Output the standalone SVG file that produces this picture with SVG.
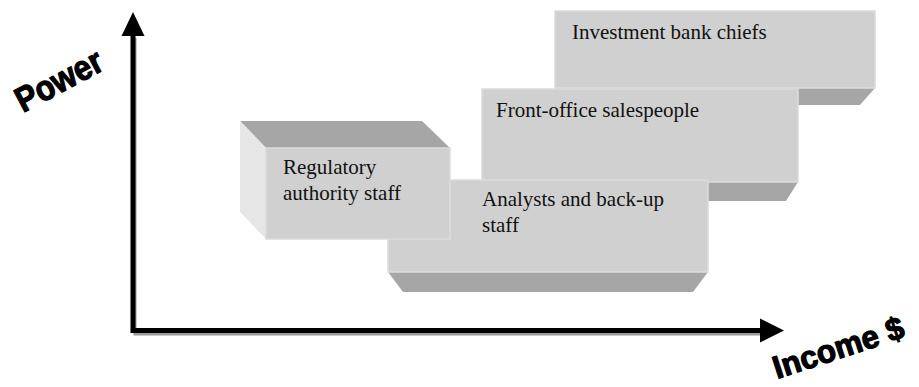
<svg xmlns="http://www.w3.org/2000/svg" width="919" height="387" viewBox="0 0 919 387">
  <defs>
    <style>
      .front { fill: #d0d0d0; stroke: #dcdcdc; stroke-width: 1.5; }
      .dark { fill: #a6a6a6; }
      .light { fill: #e6e6e6; }
      .lbl { font-family: "Liberation Serif", "Times New Roman", serif; font-size: 21px; fill: #111; }
      .axislbl { font-family: "Liberation Sans", Arial, sans-serif; font-weight: bold; fill: #000; stroke: #000; stroke-width: 1.2; stroke-linejoin: round; }
      .axis { stroke: #000; stroke-width: 5; fill: none; }
    </style>
  </defs>
  <rect width="919" height="387" fill="#fff"/>

  <g id="node-chiefs">
    <polygon class="dark" points="555,88 875,88 860,105 570,105"/>
    <rect class="front" x="555" y="11" width="320" height="77"/>
    <text class="lbl" x="572" y="39">Investment bank chiefs</text>
  </g>

  <g id="node-front-office">
    <polygon class="dark" points="482,182 798,182 786,201 497,201"/>
    <rect class="front" x="482" y="89" width="316" height="93"/>
    <text class="lbl" x="496" y="117">Front-office salespeople</text>
  </g>

  <g id="node-analysts">
    <polygon class="dark" points="388,272 708,272 693,292 403,292"/>
    <rect class="front" x="388" y="180" width="320" height="92"/>
    <text class="lbl" x="482" y="206">Analysts and back-up</text>
    <text class="lbl" x="482" y="232">staff</text>
  </g>

  <g id="node-regulatory">
    <polygon class="dark" points="240,121 422,121 450,148 266,148"/>
    <polygon class="light" points="240,121 266,148 266,239 240,212"/>
    <rect class="front" x="266" y="148" width="184" height="91"/>
    <text class="lbl" x="283" y="174">Regulatory</text>
    <text class="lbl" x="283" y="200">authority staff</text>
  </g>

  <g id="axes">
    <polyline points="135,38 135,334 765,334" fill="none" stroke="#9a9a9a" stroke-width="3"/>
    <polyline class="axis" points="133,34 133,330.5 762,330.5"/>
    <polygon points="133,12 121.5,36 144.5,36" fill="#000"/>
    <polygon points="784,330.5 760,318.5 760,342.5" fill="#000"/>
  </g>

  <g id="axis-labels">
    <text class="axislbl" x="23" y="113" font-size="35" transform="rotate(-28 23 113)" textLength="94" lengthAdjust="spacingAndGlyphs">Power</text>
    <text class="axislbl" x="777" y="379" font-size="32" transform="rotate(-18 777 379)" textLength="136" lengthAdjust="spacingAndGlyphs">Income $</text>
  </g>
</svg>
